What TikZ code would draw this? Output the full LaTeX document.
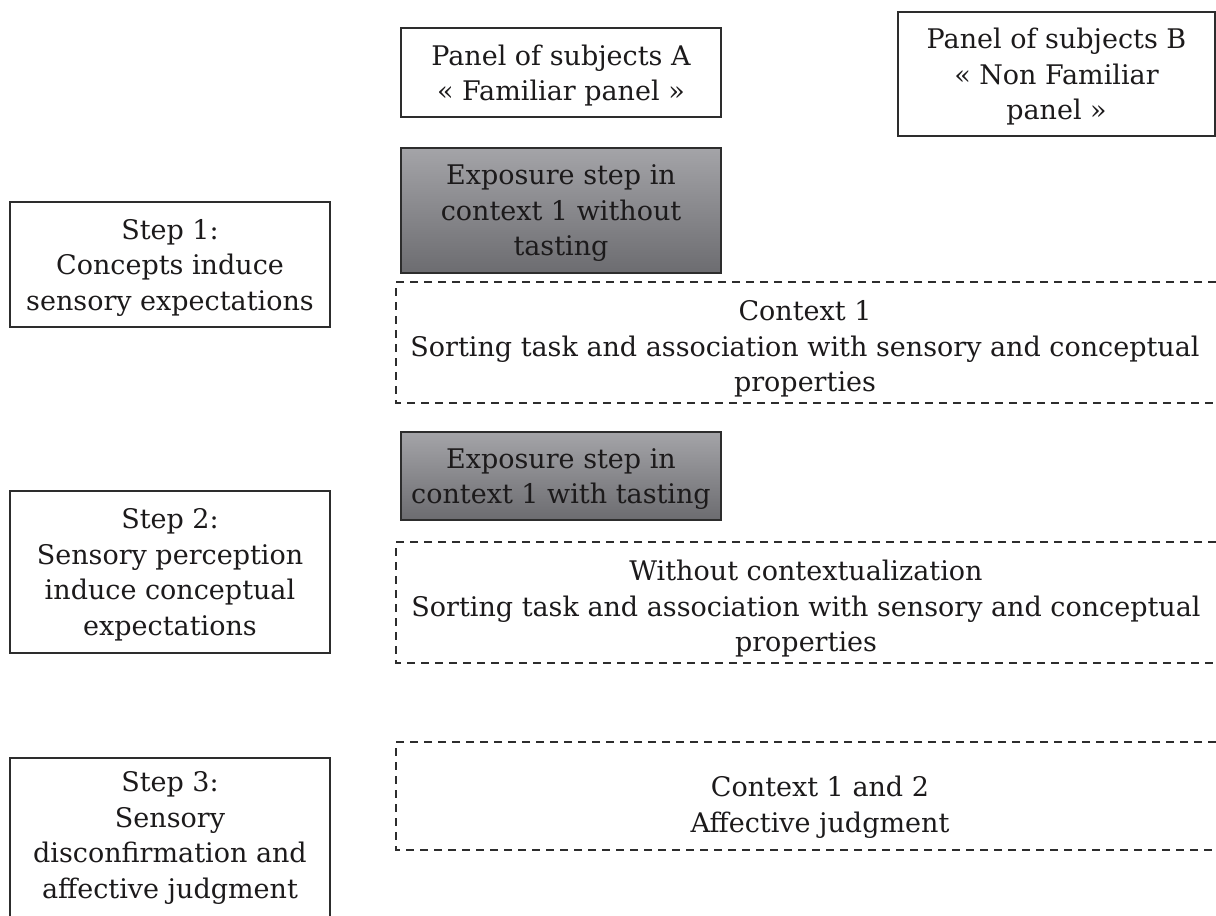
\documentclass[tikz,border=0pt]{standalone}
\usepackage{fontspec}
\setmainfont{DejaVu Serif}
\usepackage{xcolor}
\usepackage{tikz}
\usetikzlibrary{
	positioning
}
\definecolor{BoxLine}{RGB}{45,45,45}
\definecolor{InkDark}{RGB}{28,26,27}
\definecolor{ShadeTop}{RGB}{164,164,168}
\definecolor{ShadeBot}{RGB}{108,108,112}

\tikzset{
	boxline/.style={draw=BoxLine, line width=0.6pt},
	stepbox/.style={boxline, align=center, text=InkDark, inner sep=0pt, text depth=0pt, minimum width=160pt},
	expobox/.style={stepbox, top color=ShadeTop, bottom color=ShadeBot},
	ctxline/.style={boxline, dash pattern=on 4pt off 3pt},
	ctxtext/.style={align=center, text=InkDark, inner sep=0pt}
}

\begin{document}
\begin{tikzpicture}[x=0.5pt, y=-0.5pt, font=\fontsize{13.5}{17.75}\selectfont]
			\clip (0,0) rectangle (1216,916);
			
			% panels
			\node[stepbox, minimum height=44.5pt] (panelA) at (561,72.5) {Panel of subjects A\\« Familiar panel »};
			\node[stepbox, minimum width=158.5pt, minimum height=62pt] (panelB) at (1056.5,74) {Panel of subjects B\\« Non Familiar\\panel »};
			
			% steps on the left
			\node[stepbox, minimum height=62.5pt] (step1) at (170,264.5) {Step 1:\\Concepts induce\\sensory expectations};
			\node[stepbox, minimum height=81pt] (step2) at (170,572) {Step 2:\\Sensory perception\\induce conceptual\\expectations};
			% step 3 runs past the lower edge
			\draw[boxline] (10,758) rectangle (330,940);
			\node[ctxtext] (step3) at (170,838) {Step 3:\\Sensory\\disconfirmation and\\affective judgment};
			
			% exposure steps
			\node[expobox, minimum height=62.5pt] (expo1) at (561,210.5) {Exposure step in\\context 1 without\\tasting};
			\node[expobox, minimum height=44pt] (expo2) at (561,476) {Exposure step in\\context 1 with tasting};
			
			% open dashed frames
			\draw[ctxline] (1230,282) -| (396,403) -- (1230,403);
			\draw[ctxline] (1230,542) -| (396,663) -- (1230,663);
			\draw[ctxline] (1230,742) -| (396,850) -- (1230,850);
			
			\node[ctxtext] (ctx1) at (805,349) {Context 1\\Sorting task and association with sensory and conceptual\\properties};
			\node[ctxtext] (ctx2) at (806,609) {Without contextualization\\Sorting task and association with sensory and conceptual\\properties};
			\node[ctxtext] (ctx3) at (820,807) {Context 1 and 2\\Affective judgment};
		\end{tikzpicture}
\end{document}
